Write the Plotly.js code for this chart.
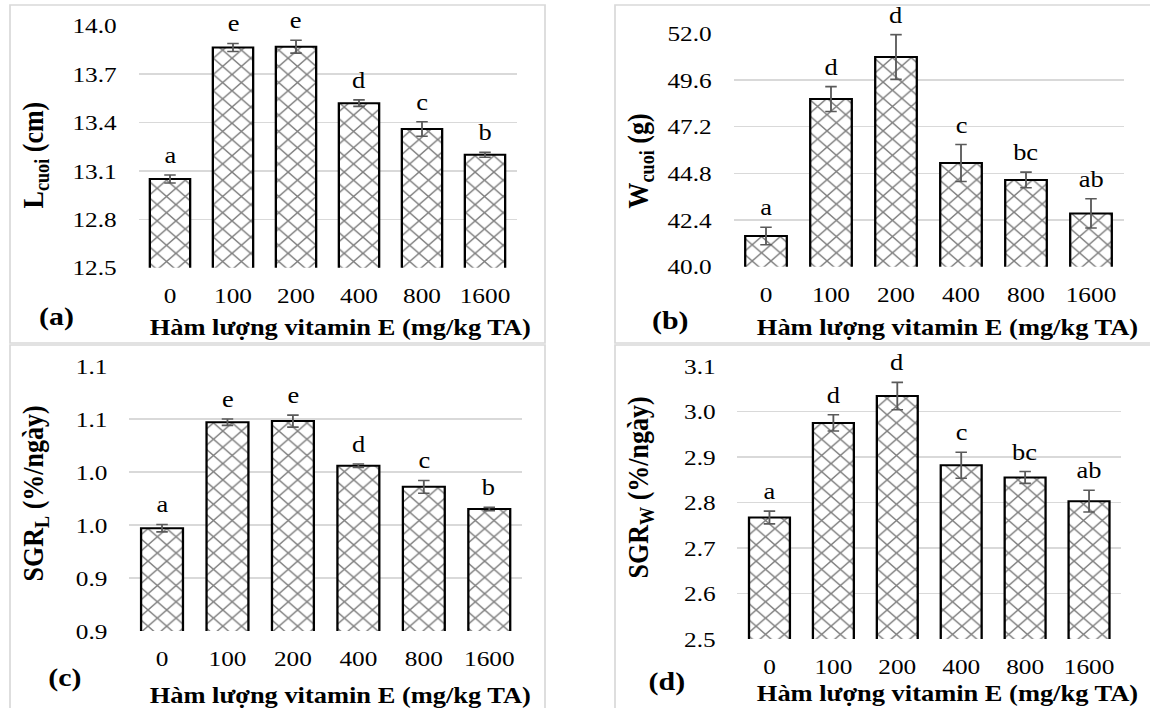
<!DOCTYPE html>
<html>
<head>
<meta charset="utf-8">
<script src="https://cdn.plot.ly/plotly-3.0.1.min.js"></script>
<style>
  html, body { margin: 0; padding: 0; background: #ffffff; overflow: hidden; }
  #wrap { width: 1150px; height: 708px; overflow: hidden; }
  #chart { width: 1000px; height: 708px; transform: scaleX(1.15); transform-origin: 0 0; }
</style>
</head>
<body>
<div id="wrap"><div id="chart"></div></div>
<script>
// ---- data ----
const categories = ['0', '100', '200', '400', '800', '1600'];

const lengthFinal   = [13.05, 13.865, 13.87, 13.52, 13.36, 13.20];
const lengthErr     = [0.025, 0.025, 0.04, 0.02, 0.045, 0.015];
const lengthLetters = ['a', 'e', 'e', 'd', 'c', 'b'];

const weightFinal   = [41.58, 48.62, 50.78, 45.33, 44.46, 42.74];
const weightErr     = [0.45, 0.64, 1.15, 0.95, 0.40, 0.75];
const weightLetters = ['a', 'd', 'd', 'c', 'bc', 'ab'];

const sgrL          = [0.947, 1.047, 1.048, 1.006, 0.986, 0.965];
const sgrLErr       = [0.0035, 0.003, 0.0057, 0.0016, 0.006, 0.0016];
const sgrLLetters   = ['a', 'e', 'e', 'd', 'c', 'b'];

const sgrW          = [2.767, 2.975, 3.034, 2.882, 2.855, 2.803];
const sgrWErr       = [0.014, 0.018, 0.030, 0.0286, 0.013, 0.024];
const sgrWLetters   = ['a', 'd', 'd', 'c', 'bc', 'ab'];

const lengthTicks    = [12.5, 12.8, 13.1, 13.4, 13.7, 14.0];
const lengthTickText = ['12.5', '12.8', '13.1', '13.4', '13.7', '14.0'];
const weightTicks    = [40.0, 42.4, 44.8, 47.2, 49.6, 52.0];
const weightTickText = ['40.0', '42.4', '44.8', '47.2', '49.6', '52.0'];
const sgrLTicks      = [0.85, 0.90, 0.95, 1.00, 1.05, 1.10];
const sgrLTickText   = ['0.9', '0.9', '1.0', '1.0', '1.1', '1.1'];
const sgrWTicks      = [2.5, 2.6, 2.7, 2.8, 2.9, 3.0, 3.1];
const sgrWTickText   = ['2.5', '2.6', '2.7', '2.8', '2.9', '3.0', '3.1'];

const xTitle = 'Hàm lượng vitamin E (mg/kg TA)';
const yTitles = ['L<sub>cuoi</sub> (cm)', 'W<sub>cuoi</sub> (g)', 'SGR<sub>L</sub> (%/ngày)', 'SGR<sub>W</sub> (%/ngày)'];
const panelTags = ['(a)', '(b)', '(c)', '(d)'];

// ---- styling ----
const FONT = 'Liberation Serif, Times New Roman, serif';
const W = 1150, H = 708;
const px = v => v / W;
const py = v => 1 - v / H;

function barTrace(vals, errs, xa, ya) {
  return {
    type: 'bar',
    x: categories,
    y: vals,
    xaxis: xa, yaxis: ya,
    width: 0.64,
    marker: {
      color: '#ffffff',
      line: { color: '#000000', width: 2 },
      pattern: { shape: 'x', size: 11.5, solidity: 0.22, fgcolor: '#000000', bgcolor: '#ffffff', fillmode: 'overlay' }
    },
    error_y: { type: 'data', array: errs, visible: true, color: '#5a5a5a', thickness: 1.6, width: 5 },
    hoverinfo: 'skip'
  };
}

const data = [
  barTrace(lengthFinal, lengthErr, 'x', 'y'),
  barTrace(weightFinal, weightErr, 'x2', 'y2'),
  barTrace(sgrL, sgrLErr, 'x3', 'y3'),
  barTrace(sgrW, sgrWErr, 'x4', 'y4')
];

function xAxis(domain, anchor) {
  return {
    domain: domain, anchor: anchor, type: 'category', range: [-0.5, 5.5],
    showgrid: false, zeroline: false, showline: false, ticks: '',
    ticklabelstandoff: 12,
    tickfont: { family: FONT, size: 22, color: '#000000' },
    fixedrange: true
  };
}
function yAxis(domain, anchor, range, tv, tt) {
  return {
    domain: domain, anchor: anchor, range: range,
    tickmode: 'array', tickvals: tv, ticktext: tt,
    showgrid: true, gridcolor: '#d9d9d9', gridwidth: 1.5,
    zeroline: false, showline: false, ticks: '',
    ticklabelstandoff: 18,
    tickfont: { family: FONT, size: 22, color: '#000000' },
    fixedrange: true
  };
}

const layout = {
  width: 1000, height: 708,
  margin: { l: 0, r: 0, t: 0, b: 0, pad: 0 },
  paper_bgcolor: '#ffffff', plot_bgcolor: 'rgba(0,0,0,0)',
  showlegend: false,
  bargap: 0.36,
  font: { family: FONT, color: '#000000' },
  xaxis:  xAxis([px(138.5), px(516.5)], 'y'),
  yaxis:  yAxis([py(267.7), py(25.7)], 'x', [12.5, 14.0], lengthTicks, lengthTickText),
  xaxis2: xAxis([px(733.5), px(1123.5)], 'y2'),
  yaxis2: yAxis([py(266.7), py(33.3)], 'x2', [40.0, 52.0], weightTicks, weightTickText),
  xaxis3: xAxis([px(129.3), px(522)], 'y3'),
  yaxis3: yAxis([py(631), py(366)], 'x3', [0.85, 1.10], sgrLTicks, sgrLTickText),
  xaxis4: xAxis([px(737.5), px(1121)], 'y4'),
  yaxis4: yAxis([py(639), py(366)], 'x4', [2.5, 3.1], sgrWTicks, sgrWTickText),
  shapes: [],
  annotations: []
};

// panel frames
const frames = [[10, 5, 545, 343], [615, 5, 1160, 343], [10, 345, 545, 720], [615, 345, 1160, 720]];
frames.forEach(f => {
  layout.shapes.push({
    type: 'rect', xref: 'paper', yref: 'paper',
    x0: px(f[0]), x1: px(f[2]), y0: py(f[3]), y1: py(f[1]),
    line: { color: '#d9d9d9', width: 1.5 }, fillcolor: 'rgba(0,0,0,0)', layer: 'below'
  });
});

// significance letters (x given as category index)
const sets = [
  [lengthFinal, lengthErr, lengthLetters, 'x', 'y'],
  [weightFinal, weightErr, weightLetters, 'x2', 'y2'],
  [sgrL, sgrLErr, sgrLLetters, 'x3', 'y3'],
  [sgrW, sgrWErr, sgrWLetters, 'x4', 'y4']
];
sets.forEach(s => {
  categories.forEach((c, i) => {
    layout.annotations.push({
      xref: s[3], yref: s[4], x: i, y: s[0][i] + s[1][i],
      text: s[2][i], showarrow: false, yanchor: 'bottom', yshift: 5,
      font: { family: FONT, size: 23, color: '#000000' }
    });
  });
});

// axis titles, y titles and panel tags
const xTitlePos = [[340, 327], [948, 327], [340, 695], [948, 693]];
const yTitlePos = [[35, 155], [640, 161], [35, 493], [640, 488]];
const tagPos    = [[56, 316], [671, 320], [65, 677], [667, 681]];
for (let k = 0; k < 4; k++) {
  layout.annotations.push({
    xref: 'paper', yref: 'paper', x: px(xTitlePos[k][0]), y: py(xTitlePos[k][1]),
    xanchor: 'center', yanchor: 'middle', showarrow: false,
    text: '<b>' + xTitle + '</b>',
    font: { family: FONT, size: 23, color: '#000000' }
  });
  layout.annotations.push({
    xref: 'paper', yref: 'paper', x: px(yTitlePos[k][0]), y: py(yTitlePos[k][1]),
    xanchor: 'center', yanchor: 'middle', showarrow: false, textangle: -90,
    text: '<b>' + yTitles[k] + '</b>',
    font: { family: FONT, size: 26, color: '#000000' }
  });
  layout.annotations.push({
    xref: 'paper', yref: 'paper', x: px(tagPos[k][0]), y: py(tagPos[k][1]),
    xanchor: 'center', yanchor: 'middle', showarrow: false,
    text: '<b>' + panelTags[k] + '</b>',
    font: { family: FONT, size: 26, color: '#000000' }
  });
}

Plotly.newPlot('chart', data, layout, { staticPlot: true, displayModeBar: false });
</script>
</body>
</html>
